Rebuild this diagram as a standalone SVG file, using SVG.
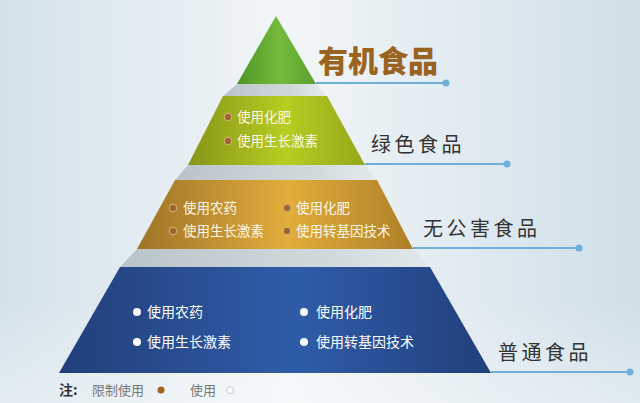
<svg xmlns="http://www.w3.org/2000/svg" width="640" height="403" viewBox="0 0 640 403">
<defs>
<linearGradient id="bg" x1="0" y1="0" x2="1" y2="0">
<stop offset="0" stop-color="#d3e2ea"/>
<stop offset="0.45" stop-color="#f2f6f8"/>
<stop offset="1" stop-color="#cfdfe8"/>
</linearGradient>
<linearGradient id="gTri" x1="0" y1="0" x2="1" y2="0">
<stop offset="0" stop-color="#4f9527"/>
<stop offset="0.55" stop-color="#74bb3c"/>
<stop offset="1" stop-color="#5b9f2d"/>
</linearGradient>
<linearGradient id="gL2" x1="0" y1="0" x2="1" y2="0">
<stop offset="0" stop-color="#879519"/>
<stop offset="0.55" stop-color="#b6cd22"/>
<stop offset="1" stop-color="#95a81b"/>
</linearGradient>
<linearGradient id="gL3" x1="0" y1="0" x2="1" y2="0">
<stop offset="0" stop-color="#9e7427"/>
<stop offset="0.55" stop-color="#e2ad3b"/>
<stop offset="1" stop-color="#ae7f28"/>
</linearGradient>
<linearGradient id="gL4" x1="0" y1="0" x2="1" y2="0">
<stop offset="0" stop-color="#223f7a"/>
<stop offset="0.55" stop-color="#2f5ca8"/>
<stop offset="1" stop-color="#213f7b"/>
</linearGradient>
<linearGradient id="gSh" x1="0" y1="0" x2="1" y2="0">
<stop offset="0" stop-color="#b9c4ca"/>
<stop offset="0.7" stop-color="#d3dadd"/>
<stop offset="1" stop-color="#dde3e6" stop-opacity="0.6"/>
</linearGradient>
<linearGradient id="fadeB" x1="0" y1="0" x2="0" y2="1">
<stop offset="0" stop-color="#ffffff" stop-opacity="0"/>
<stop offset="1" stop-color="#ffffff" stop-opacity="0.35"/>
</linearGradient>
</defs>
<style>
.item{font-family:"Noto Sans CJK SC","Noto Sans",sans-serif;font-size:13.5px;fill:#fbf6e8}
.item4{font-family:"Noto Sans CJK SC","Noto Sans",sans-serif;font-size:14px;fill:#ffffff}
.lbl{font-family:"Noto Sans CJK SC","Noto Sans",sans-serif;font-size:20px;fill:#333333;letter-spacing:3.5px}
.title{font-family:"Noto Sans CJK SC","Noto Sans",sans-serif;font-size:30px;font-weight:900;fill:#9a6420}
.lead{stroke:#6fb0d8;stroke-width:2;fill:none}
.leaddot{fill:#6fb0d8}
.bb{fill:#9a6630;stroke:#d9b77c;stroke-width:1}
.bw{fill:#ffffff}
.note{font-family:"Noto Sans CJK SC","Noto Sans",sans-serif;font-size:13px;fill:#777777}
</style>
<rect width="640" height="403" fill="url(#bg)"/>
<rect y="300" width="640" height="103" fill="url(#fadeB)"/>

<g id="shadows">
<polygon points="237,84 316,84 327,96 223,96" fill="url(#gSh)"/>
<polygon points="188,165 365,165 377,180 175,180" fill="url(#gSh)"/>
<polygon points="137,249 413,249 430,267 120,267" fill="url(#gSh)"/>
</g>

<g id="connectors">
<line class="lead" x1="316" y1="83" x2="446" y2="83"/>
<circle class="leaddot" cx="446" cy="83" r="3.5"/>
<line class="lead" x1="365" y1="164" x2="507" y2="164"/>
<circle class="leaddot" cx="507" cy="164" r="3.5"/>
<line class="lead" x1="413" y1="248" x2="579" y2="248"/>
<circle class="leaddot" cx="579" cy="248" r="3.5"/>
<line class="lead" x1="491" y1="372" x2="630" y2="372"/>
<circle class="leaddot" cx="630" cy="372" r="3.5"/>
</g>

<g id="organic">
<polygon points="276,16 316,84 237,84" fill="url(#gTri)"/>
<text class="title" x="318" y="72">有机食品</text>
</g>

<g id="green">
<polygon points="223,96 327,96 365,165 188,165" fill="url(#gL2)"/>
<circle class="bb" cx="228" cy="117" r="3.8"/>
<text class="item" x="237" y="122">使用化肥</text>
<circle class="bb" cx="228" cy="141" r="3.8"/>
<text class="item" x="237" y="146">使用生长激素</text>
<text class="lbl" x="371" y="152">绿色食品</text>
</g>

<g id="pollution-free">
<polygon points="175,180 377,180 413,249 137,249" fill="url(#gL3)"/>
<circle class="bb" cx="173" cy="208" r="3.8"/>
<text class="item" x="183" y="213">使用农药</text>
<circle class="bb" cx="173" cy="231" r="3.8"/>
<text class="item" x="183" y="236">使用生长激素</text>
<circle class="bb" cx="287" cy="208" r="3.8"/>
<text class="item" x="296" y="213">使用化肥</text>
<circle class="bb" cx="287" cy="231" r="3.8"/>
<text class="item" x="296" y="236">使用转基因技术</text>
<text class="lbl" x="423" y="236">无公害食品</text>
</g>

<g id="ordinary">
<polygon points="120,267 430,267 491,373 59,373" fill="url(#gL4)"/>
<circle class="bw" cx="137" cy="312" r="4"/>
<text class="item4" x="147" y="317">使用农药</text>
<circle class="bw" cx="137" cy="342" r="4"/>
<text class="item4" x="147" y="347">使用生长激素</text>
<circle class="bw" cx="304" cy="312" r="4"/>
<text class="item4" x="316" y="317">使用化肥</text>
<circle class="bw" cx="304" cy="342" r="4"/>
<text class="item4" x="316" y="347">使用转基因技术</text>
<text class="lbl" x="498" y="360">普通食品</text>
</g>

<g id="legend">
<text x="59" y="395" font-family="'Noto Sans CJK SC','Noto Sans',sans-serif" font-size="14" font-weight="bold" fill="#333333">注:</text>
<text class="note" x="92" y="395">限制使用</text>
<circle cx="161" cy="390" r="3.5" fill="#a0661e"/>
<text class="note" x="190" y="395">使用</text>
<circle cx="230" cy="390" r="3.5" fill="#ffffff" stroke="#c8c8c8" stroke-width="1"/>
</g>
</svg>
